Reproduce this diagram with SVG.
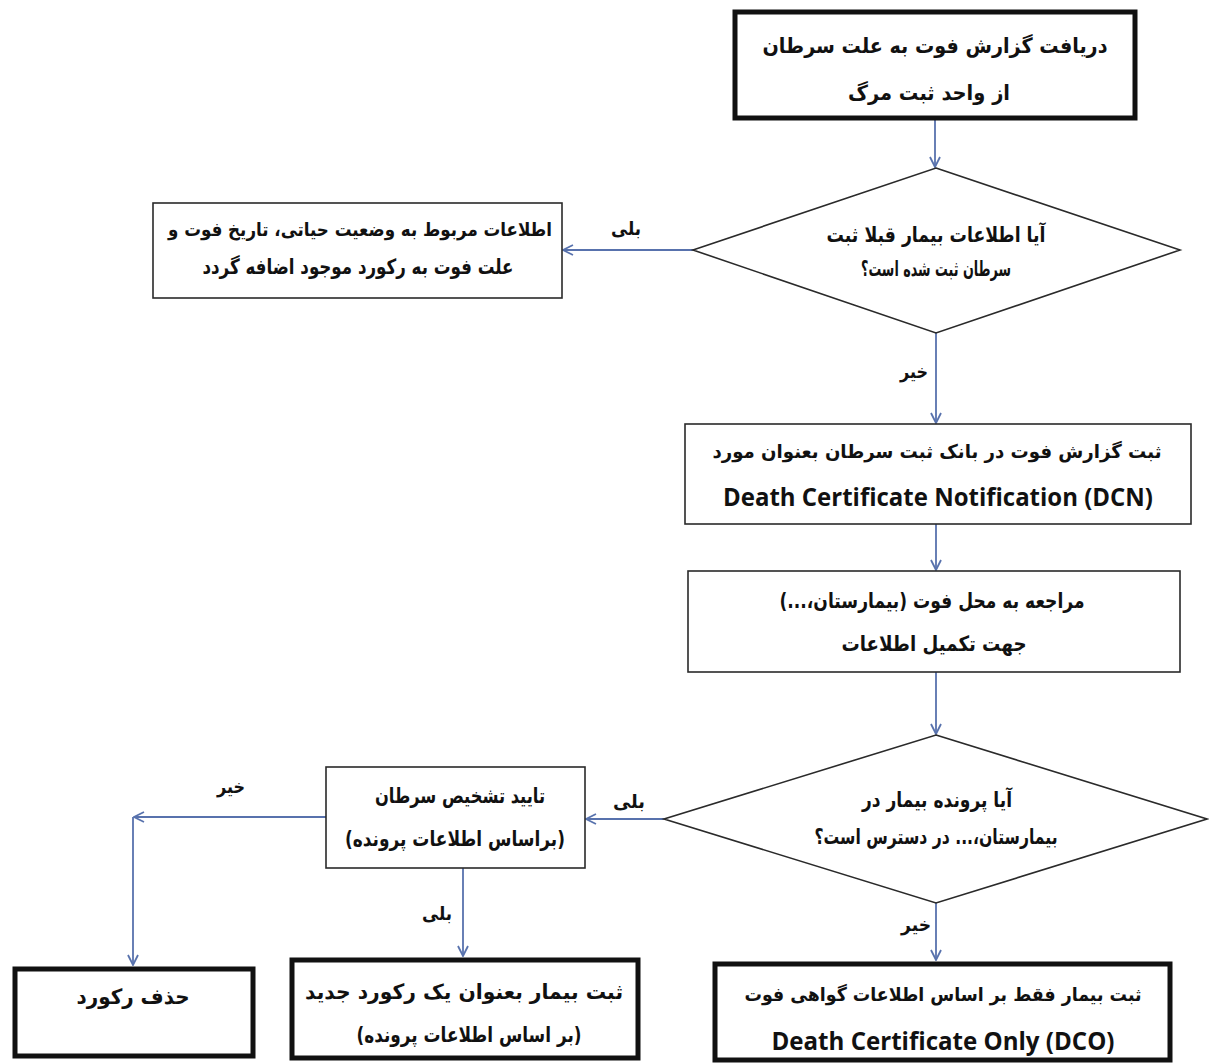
<svg xmlns="http://www.w3.org/2000/svg" width="1209" height="1064" viewBox="0 0 1209 1064">
<style>
.thin{fill:#fff;stroke:#2a2a2a;stroke-width:1.6}
.thick{fill:#fff;stroke:#111;stroke-width:5}
.fa{font-family:"DejaVu Sans",sans-serif;font-weight:bold;font-size:21px;fill:#111;text-anchor:middle;dominant-baseline:central;direction:rtl;unicode-bidi:embed}
.sm{font-size:19px}
.en{font-family:"Open Sans","Liberation Sans",sans-serif;font-weight:bold;font-size:25px;fill:#111;text-anchor:middle;dominant-baseline:central}
.lbl{font-family:"DejaVu Sans",sans-serif;font-weight:bold;font-size:19px;fill:#111;text-anchor:middle;dominant-baseline:central;direction:rtl;unicode-bidi:embed}
.c{fill:none;stroke:#5872ad;stroke-width:1.8}
</style>
<defs>
<marker id="ah" viewBox="0 0 12 12" refX="11" refY="6" markerWidth="12" markerHeight="12" markerUnits="userSpaceOnUse" orient="auto">
<path d="M1,1 L11,6 L1,11" fill="none" stroke="#5872ad" stroke-width="1.8"/>
</marker>
</defs>
<rect width="1209" height="1064" fill="#fff"/>

<g id="connectors">
<line class="c" x1="935" y1="120" x2="935" y2="167" marker-end="url(#ah)"/>
<line class="c" x1="693" y1="250" x2="563" y2="250" marker-end="url(#ah)"/>
<line class="c" x1="936" y1="333" x2="936" y2="423" marker-end="url(#ah)"/>
<line class="c" x1="936" y1="524" x2="936" y2="570" marker-end="url(#ah)"/>
<line class="c" x1="936" y1="672" x2="936" y2="734" marker-end="url(#ah)"/>
<line class="c" x1="664" y1="819" x2="586" y2="819" marker-end="url(#ah)"/>
<line class="c" x1="326" y1="817" x2="134" y2="817" marker-end="url(#ah)"/>
<line class="c" x1="133" y1="817" x2="133" y2="965" marker-end="url(#ah)"/>
<line class="c" x1="463" y1="868" x2="463" y2="956" marker-end="url(#ah)"/>
<line class="c" x1="936" y1="903" x2="936" y2="960" marker-end="url(#ah)"/>
<text class="lbl" x="626" y="228" textLength="30" lengthAdjust="spacingAndGlyphs">بلی</text>
<text class="lbl" x="914" y="371" textLength="28" lengthAdjust="spacingAndGlyphs">خیر</text>
<text class="lbl" x="629" y="801" textLength="32" lengthAdjust="spacingAndGlyphs">بلی</text>
<text class="lbl" x="231" y="786" textLength="28" lengthAdjust="spacingAndGlyphs">خیر</text>
<text class="lbl" x="437" y="913" textLength="30" lengthAdjust="spacingAndGlyphs">بلی</text>
<text class="lbl" x="916" y="924" textLength="30" lengthAdjust="spacingAndGlyphs">خیر</text>
</g>

<g id="n-start">
<rect class="thick" x="735" y="12" width="400" height="106"/>
<text class="fa" x="935" y="46" textLength="345" lengthAdjust="spacingAndGlyphs">دریافت گزارش فوت به علت سرطان</text>
<text class="fa" x="929" y="93" textLength="162" lengthAdjust="spacingAndGlyphs">از واحد ثبت مرگ</text>
</g>

<g id="n-q1">
<polygon class="thin" points="936,168 1180,250 936,333 693,250"/>
<text class="fa" x="936" y="235" textLength="219" lengthAdjust="spacingAndGlyphs">آیا اطلاعات بیمار قبلا ثبت</text>
<text class="fa" x="936" y="269" textLength="150" lengthAdjust="spacingAndGlyphs">سرطان ثبت شده است؟</text>
</g>

<g id="n-update">
<rect class="thin" x="153" y="203" width="409" height="95"/>
<text class="fa sm" x="360" y="229" textLength="384" lengthAdjust="spacingAndGlyphs">اطلاعات مربوط به وضعیت حیاتی، تاریخ فوت و</text>
<text class="fa" x="358" y="267" textLength="311" lengthAdjust="spacingAndGlyphs">علت فوت به رکورد موجود اضافه گردد</text>
</g>

<g id="n-dcn">
<rect class="thin" x="685" y="424" width="506" height="100"/>
<text class="fa sm" x="937" y="451" textLength="449" lengthAdjust="spacingAndGlyphs">ثبت گزارش فوت در بانک ثبت سرطان بعنوان مورد</text>
<text class="en" x="938" y="496" textLength="430" lengthAdjust="spacingAndGlyphs">Death Certificate Notification (DCN)</text>
</g>

<g id="n-visit">
<rect class="thin" x="688" y="571" width="492" height="101"/>
<text class="fa" x="932" y="601" textLength="305" lengthAdjust="spacingAndGlyphs">مراجعه به محل فوت (بیمارستان،...)</text>
<text class="fa" x="934" y="644" textLength="185" lengthAdjust="spacingAndGlyphs">جهت تکمیل اطلاعات</text>
</g>

<g id="n-q2">
<polygon class="thin" points="936,735 1207,819 936,903 664,819"/>
<text class="fa" x="937" y="800" textLength="150" lengthAdjust="spacingAndGlyphs">آیا پرونده بیمار در</text>
<text class="fa" x="936" y="837" textLength="243" lengthAdjust="spacingAndGlyphs">بیمارستان،... در دسترس است؟</text>
</g>

<g id="n-confirm">
<rect class="thin" x="326" y="767" width="259" height="101"/>
<text class="fa" x="460" y="796" textLength="170" lengthAdjust="spacingAndGlyphs">تایید تشخیص سرطان</text>
<text class="fa" x="455" y="839" textLength="220" lengthAdjust="spacingAndGlyphs">(براساس اطلاعات پرونده)</text>
</g>

<g id="n-delete">
<rect class="thick" x="15" y="969" width="238" height="87"/>
<text class="fa" x="133" y="997" textLength="113" lengthAdjust="spacingAndGlyphs">حذف رکورد</text>
</g>

<g id="n-new">
<rect class="thick" x="292" y="960" width="346" height="98"/>
<text class="fa" x="464" y="992" textLength="318" lengthAdjust="spacingAndGlyphs">ثبت بیمار بعنوان یک رکورد جدید</text>
<text class="fa" x="469" y="1035" textLength="225" lengthAdjust="spacingAndGlyphs">(بر اساس اطلاعات پرونده)</text>
</g>

<g id="n-dco">
<rect class="thick" x="715" y="964" width="455" height="96"/>
<text class="fa sm" x="943" y="994" textLength="397" lengthAdjust="spacingAndGlyphs">ثبت بیمار فقط بر اساس اطلاعات گواهی فوت</text>
<text class="en" x="943" y="1040" textLength="343" lengthAdjust="spacingAndGlyphs">Death Certificate Only (DCO)</text>
</g>
</svg>
